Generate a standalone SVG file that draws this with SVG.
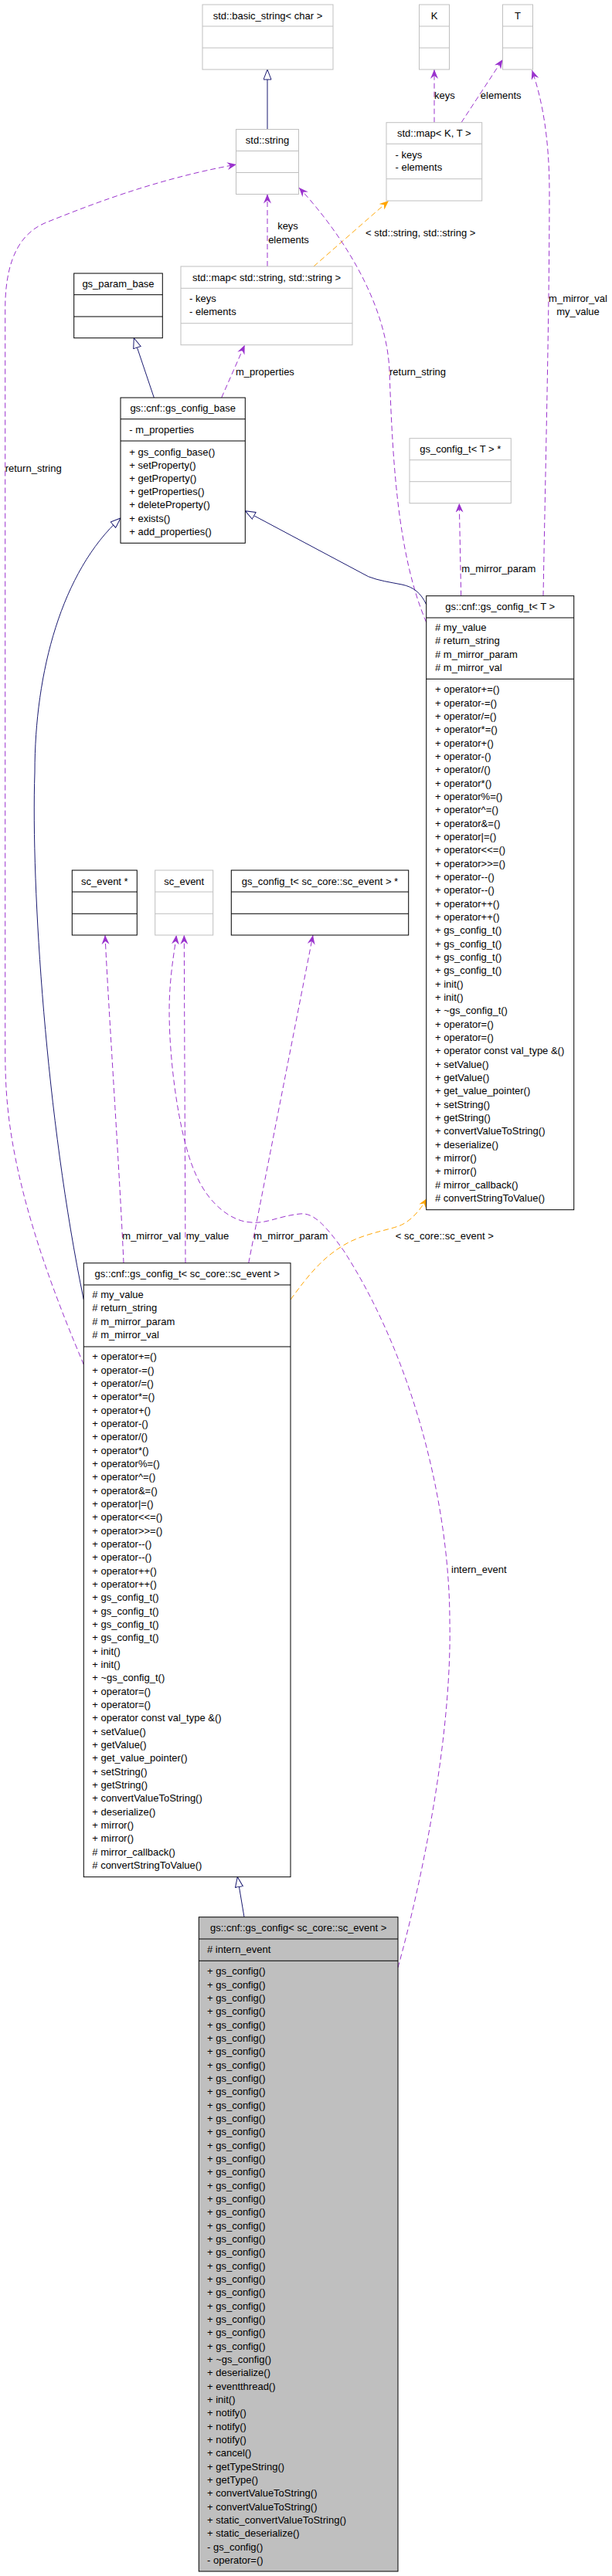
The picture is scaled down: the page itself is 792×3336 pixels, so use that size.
<svg xmlns="http://www.w3.org/2000/svg" width="792" height="3336" viewBox="0 0 792 3336">
<style>
text{font-family:"Liberation Sans",Arial,Helvetica,sans-serif;font-size:13px;fill:#000}
.c{text-anchor:middle}
.nb{fill:#fff;stroke:#000;stroke-width:1}
.ng{fill:#fff;stroke:#bfbfbf;stroke-width:1}
.nf{fill:#bfbfbf;stroke:#000;stroke-width:1}
.sb{fill:none;stroke:#000;stroke-width:1}
.sg{fill:none;stroke:#bfbfbf;stroke-width:1}
.u{fill:none;stroke:#9a32cd;stroke-width:1;stroke-dasharray:7,4;marker-end:url(#vp)}
.t{fill:none;stroke:#ffa500;stroke-width:1;stroke-dasharray:7,4;marker-end:url(#vo)}
.i{fill:none;stroke:#191970;stroke-width:1;marker-end:url(#tri)}
</style>
<defs>
<marker id="vp" viewBox="0 0 12 10" refX="12" refY="5" markerWidth="12" markerHeight="10" markerUnits="userSpaceOnUse" orient="auto"><path d="M0,0L12,5L0,10L4,5z" fill="#9a32cd"/></marker>
<marker id="vo" viewBox="0 0 12 10" refX="12" refY="5" markerWidth="12" markerHeight="10" markerUnits="userSpaceOnUse" orient="auto"><path d="M0,0L12,5L0,10L4,5z" fill="#ffa500"/></marker>
<marker id="tri" viewBox="0 0 14 11" refX="13.5" refY="5.5" markerWidth="14" markerHeight="11" markerUnits="userSpaceOnUse" orient="auto"><path d="M0.5,0.5L13.5,5.5L0.5,10.5z" fill="#fff" stroke="#191970"/></marker>
</defs>
<rect width="792" height="3336" fill="#fff"/>

<g id="connectors">
<path class="i" d="M346,167.5L346,90"/>
<path class="u" d="M562,158.7L562,90"/>
<path class="u" d="M597,158.7L650.5,77"/>
<path class="u" d="M703,771.7C706,600 711,400 711,250C711,180 702,130 688.5,91"/>
<path class="u" d="M346,345L346,251.5"/>
<path class="t" d="M406,345L503,260"/>
<path class="u" d="M551.7,806C515,720 508,600 504,480C500,390 440,300 387,243"/>
<path class="u" d="M286.7,515L316.7,446.7"/>
<path class="i" d="M199.3,515L173.3,437.7"/>
<path class="i" d="M551.7,783C545,768 535,760 520,757C505,754 490,752 476.7,746.7L317.3,661.7"/>
<path class="u" d="M596.7,771.7L594.3,651.7"/>
<path class="i" d="M108.3,1683C60,1450 40,1150 45,1000C45,870 80,740 156,671"/>
<path class="u" d="M108.3,1767C80,1700 40,1600 20,1500C8,1440 6.7,1400 6.7,1353L6.7,400C6.7,330 30,300 60,288C110,268 200,232 306,213"/>
<path class="u" d="M160,1635.7C155,1520 140,1300 136,1211"/>
<path class="u" d="M240,1635.7L238.3,1211"/>
<path class="u" d="M321.7,1635.7L405,1211"/>
<path class="t" d="M376,1683C400,1650 420,1625 453,1608C480,1595 510,1592 522,1585C535,1578 545,1565 552.7,1551.7"/>
<path class="u" d="M515,2548C545,2440 585,2250 582,2100C582,1950 535,1760 445,1620C420,1585 405,1570 388,1572C360,1575 345,1585 325,1583C300,1582 270,1560 253,1520C230,1470 215,1350 220,1280C222,1250 226,1230 228.3,1211"/>
<path class="i" d="M316,2482.7L307.3,2430.7"/>
<text x="562" y="127.5">keys</text>
<text x="621.8" y="127.5">elements</text>
<text class="c" x="748" y="391">m_mirror_val</text>
<text class="c" x="748" y="408">my_value</text>
<text class="c" x="372.5" y="297">keys</text>
<text class="c" x="373.5" y="315">elements</text>
<text x="473" y="306">&lt; std::string, std::string &gt;</text>
<text x="504" y="485.5">return_string</text>
<text x="597.3" y="741">m_mirror_param</text>
<text x="305" y="486">m_properties</text>
<text x="6.7" y="611">return_string</text>
<text x="158.3" y="1605">m_mirror_val</text>
<text x="240.7" y="1605">my_value</text>
<text x="328.3" y="1605">m_mirror_param</text>
<text x="511.7" y="1605">&lt; sc_core::sc_event &gt;</text>
<text x="584" y="2036.5">intern_event</text>
</g>

<g id="basic_string">
<rect class="ng" x="262" y="6" width="169" height="84"/>
<path class="sg" d="M262,34H431M262,62H431"/>
<text class="c" x="346.5" y="24.5">std::basic_string&lt; char &gt;</text>
</g>
<g id="std_string">
<rect class="ng" x="305.5" y="167.5" width="81" height="84"/>
<path class="sg" d="M305.5,195.5H386.5M305.5,223.5H386.5"/>
<text class="c" x="346" y="186">std::string</text>
</g>
<g id="K">
<rect class="ng" x="542.5" y="6" width="39" height="84"/>
<path class="sg" d="M542.5,34H581.5M542.5,62H581.5"/>
<text class="c" x="562" y="24.5">K</text>
</g>
<g id="T">
<rect class="ng" x="650.5" y="6" width="39" height="84"/>
<path class="sg" d="M650.5,34H689.5M650.5,62H689.5"/>
<text class="c" x="670" y="24.5">T</text>
</g>
<g id="map_K_T">
<rect class="ng" x="500" y="158.7" width="123.7" height="101.3"/>
<path class="sg" d="M500,186.3H623.7M500,231.7H623.7"/>
<text class="c" x="561.8" y="177.2">std::map&lt; K, T &gt;</text>
<text x="511.5" y="204.5">- keys</text>
<text x="511.5" y="221.2">- elements</text>
</g>
<g id="map_string_string">
<rect class="ng" x="234" y="345" width="222" height="101.7"/>
<path class="sg" d="M234,373.3H456M234,418.7H456"/>
<text class="c" x="345" y="363.7">std::map&lt; std::string, std::string &gt;</text>
<text x="245" y="391.2">- keys</text>
<text x="245" y="407.8">- elements</text>
</g>
<g id="gs_param_base">
<rect class="nb" x="95.7" y="354" width="114.6" height="83.7"/>
<path class="sb" d="M95.7,381.7H210.3M95.7,410H210.3"/>
<text class="c" x="153" y="372.3">gs_param_base</text>
</g>
<g id="gs_config_base">
<rect class="nb" x="156" y="515" width="161.3" height="188.3"/>
<path class="sb" d="M156,542.7H317.3M156,571H317.3"/>
<text class="c" x="236.7" y="533.3">gs::cnf::gs_config_base</text>
<text x="167.3" y="561.2">- m_properties</text>
<text x="167.3" y="589.5"><tspan x="167.3">+ gs_config_base()</tspan><tspan x="167.3" dy="17.2">+ setProperty()</tspan><tspan x="167.3" dy="17.2">+ getProperty()</tspan><tspan x="167.3" dy="17.2">+ getProperties()</tspan><tspan x="167.3" dy="17.2">+ deleteProperty()</tspan><tspan x="167.3" dy="17.2">+ exists()</tspan><tspan x="167.3" dy="17.2">+ add_properties()</tspan></text>
</g>
<g id="gs_config_t_T_ptr">
<rect class="ng" x="530" y="567.7" width="131.3" height="84"/>
<path class="sg" d="M530,595.7H661.3M530,623.7H661.3"/>
<text class="c" x="595.7" y="586.2">gs_config_t&lt; T &gt; *</text>
</g>
<g id="gs_config_t_T">
<rect class="nb" x="551.7" y="771.7" width="191" height="795"/>
<path class="sb" d="M551.7,800H742.7M551.7,879.3H742.7"/>
<text class="c" x="647.2" y="790.3">gs::cnf::gs_config_t&lt; T &gt;</text>
<text x="563" y="817.2"><tspan x="563"># my_value</tspan><tspan x="563" dy="17.2"># return_string</tspan><tspan x="563" dy="17.2"># m_mirror_param</tspan><tspan x="563" dy="17.2"># m_mirror_val</tspan></text>
<text x="563" y="897.2"><tspan x="563">+ operator+=()</tspan><tspan x="563" dy="17.34">+ operator-=()</tspan><tspan x="563" dy="17.34">+ operator/=()</tspan><tspan x="563" dy="17.34">+ operator*=()</tspan><tspan x="563" dy="17.34">+ operator+()</tspan><tspan x="563" dy="17.34">+ operator-()</tspan><tspan x="563" dy="17.34">+ operator/()</tspan><tspan x="563" dy="17.34">+ operator*()</tspan><tspan x="563" dy="17.34">+ operator%=()</tspan><tspan x="563" dy="17.34">+ operator^=()</tspan><tspan x="563" dy="17.34">+ operator&amp;=()</tspan><tspan x="563" dy="17.34">+ operator|=()</tspan><tspan x="563" dy="17.34">+ operator&lt;&lt;=()</tspan><tspan x="563" dy="17.34">+ operator&gt;&gt;=()</tspan><tspan x="563" dy="17.34">+ operator--()</tspan><tspan x="563" dy="17.34">+ operator--()</tspan><tspan x="563" dy="17.34">+ operator++()</tspan><tspan x="563" dy="17.34">+ operator++()</tspan><tspan x="563" dy="17.34">+ gs_config_t()</tspan><tspan x="563" dy="17.34">+ gs_config_t()</tspan><tspan x="563" dy="17.34">+ gs_config_t()</tspan><tspan x="563" dy="17.34">+ gs_config_t()</tspan><tspan x="563" dy="17.34">+ init()</tspan><tspan x="563" dy="17.34">+ init()</tspan><tspan x="563" dy="17.34">+ ~gs_config_t()</tspan><tspan x="563" dy="17.34">+ operator=()</tspan><tspan x="563" dy="17.34">+ operator=()</tspan><tspan x="563" dy="17.34">+ operator const val_type &amp;()</tspan><tspan x="563" dy="17.34">+ setValue()</tspan><tspan x="563" dy="17.34">+ getValue()</tspan><tspan x="563" dy="17.34">+ get_value_pointer()</tspan><tspan x="563" dy="17.34">+ setString()</tspan><tspan x="563" dy="17.34">+ getString()</tspan><tspan x="563" dy="17.34">+ convertValueToString()</tspan><tspan x="563" dy="17.34">+ deserialize()</tspan><tspan x="563" dy="17.34">+ mirror()</tspan><tspan x="563" dy="17.34">+ mirror()</tspan><tspan x="563" dy="17.34"># mirror_callback()</tspan><tspan x="563" dy="17.34"># convertStringToValue()</tspan></text>
</g>
<g id="sc_event_ptr">
<rect class="nb" x="93.3" y="1127" width="84" height="84"/>
<path class="sb" d="M93.3,1155H177.3M93.3,1183.3H177.3"/>
<text class="c" x="135.3" y="1145.5">sc_event *</text>
</g>
<g id="sc_event">
<rect class="ng" x="200.7" y="1127" width="75" height="84"/>
<path class="sg" d="M200.7,1155H275.7M200.7,1183.3H275.7"/>
<text class="c" x="238.2" y="1145.5">sc_event</text>
</g>
<g id="gs_config_t_sc_event_ptr">
<rect class="nb" x="299.3" y="1127" width="229.4" height="84"/>
<path class="sb" d="M299.3,1155H528.7M299.3,1183.3H528.7"/>
<text class="c" x="414" y="1145.5">gs_config_t&lt; sc_core::sc_event &gt; *</text>
</g>
<g id="gs_config_t_sc_event">
<rect class="nb" x="108.3" y="1635.7" width="267.7" height="795"/>
<path class="sb" d="M108.3,1664H376M108.3,1744H376"/>
<text class="c" x="242.2" y="1654.3">gs::cnf::gs_config_t&lt; sc_core::sc_event &gt;</text>
<text x="119.3" y="1681.2"><tspan x="119.3"># my_value</tspan><tspan x="119.3" dy="17.2"># return_string</tspan><tspan x="119.3" dy="17.2"># m_mirror_param</tspan><tspan x="119.3" dy="17.2"># m_mirror_val</tspan></text>
<text x="119.3" y="1761.2"><tspan x="119.3">+ operator+=()</tspan><tspan x="119.3" dy="17.34">+ operator-=()</tspan><tspan x="119.3" dy="17.34">+ operator/=()</tspan><tspan x="119.3" dy="17.34">+ operator*=()</tspan><tspan x="119.3" dy="17.34">+ operator+()</tspan><tspan x="119.3" dy="17.34">+ operator-()</tspan><tspan x="119.3" dy="17.34">+ operator/()</tspan><tspan x="119.3" dy="17.34">+ operator*()</tspan><tspan x="119.3" dy="17.34">+ operator%=()</tspan><tspan x="119.3" dy="17.34">+ operator^=()</tspan><tspan x="119.3" dy="17.34">+ operator&amp;=()</tspan><tspan x="119.3" dy="17.34">+ operator|=()</tspan><tspan x="119.3" dy="17.34">+ operator&lt;&lt;=()</tspan><tspan x="119.3" dy="17.34">+ operator&gt;&gt;=()</tspan><tspan x="119.3" dy="17.34">+ operator--()</tspan><tspan x="119.3" dy="17.34">+ operator--()</tspan><tspan x="119.3" dy="17.34">+ operator++()</tspan><tspan x="119.3" dy="17.34">+ operator++()</tspan><tspan x="119.3" dy="17.34">+ gs_config_t()</tspan><tspan x="119.3" dy="17.34">+ gs_config_t()</tspan><tspan x="119.3" dy="17.34">+ gs_config_t()</tspan><tspan x="119.3" dy="17.34">+ gs_config_t()</tspan><tspan x="119.3" dy="17.34">+ init()</tspan><tspan x="119.3" dy="17.34">+ init()</tspan><tspan x="119.3" dy="17.34">+ ~gs_config_t()</tspan><tspan x="119.3" dy="17.34">+ operator=()</tspan><tspan x="119.3" dy="17.34">+ operator=()</tspan><tspan x="119.3" dy="17.34">+ operator const val_type &amp;()</tspan><tspan x="119.3" dy="17.34">+ setValue()</tspan><tspan x="119.3" dy="17.34">+ getValue()</tspan><tspan x="119.3" dy="17.34">+ get_value_pointer()</tspan><tspan x="119.3" dy="17.34">+ setString()</tspan><tspan x="119.3" dy="17.34">+ getString()</tspan><tspan x="119.3" dy="17.34">+ convertValueToString()</tspan><tspan x="119.3" dy="17.34">+ deserialize()</tspan><tspan x="119.3" dy="17.34">+ mirror()</tspan><tspan x="119.3" dy="17.34">+ mirror()</tspan><tspan x="119.3" dy="17.34"># mirror_callback()</tspan><tspan x="119.3" dy="17.34"># convertStringToValue()</tspan></text>
</g>
<g id="gs_config_sc_event">
<rect class="nf" x="257.3" y="2482.7" width="257.7" height="847.3"/>
<path class="sb" d="M257.3,2511H515M257.3,2539.3H515"/>
<text class="c" x="386.2" y="2501.3">gs::cnf::gs_config&lt; sc_core::sc_event &gt;</text>
<text x="268" y="2529.2"># intern_event</text>
<text x="268" y="2557.2"><tspan x="268">+ gs_config()</tspan><tspan x="268" dy="17.34">+ gs_config()</tspan><tspan x="268" dy="17.34">+ gs_config()</tspan><tspan x="268" dy="17.34">+ gs_config()</tspan><tspan x="268" dy="17.34">+ gs_config()</tspan><tspan x="268" dy="17.34">+ gs_config()</tspan><tspan x="268" dy="17.34">+ gs_config()</tspan><tspan x="268" dy="17.34">+ gs_config()</tspan><tspan x="268" dy="17.34">+ gs_config()</tspan><tspan x="268" dy="17.34">+ gs_config()</tspan><tspan x="268" dy="17.34">+ gs_config()</tspan><tspan x="268" dy="17.34">+ gs_config()</tspan><tspan x="268" dy="17.34">+ gs_config()</tspan><tspan x="268" dy="17.34">+ gs_config()</tspan><tspan x="268" dy="17.34">+ gs_config()</tspan><tspan x="268" dy="17.34">+ gs_config()</tspan><tspan x="268" dy="17.34">+ gs_config()</tspan><tspan x="268" dy="17.34">+ gs_config()</tspan><tspan x="268" dy="17.34">+ gs_config()</tspan><tspan x="268" dy="17.34">+ gs_config()</tspan><tspan x="268" dy="17.34">+ gs_config()</tspan><tspan x="268" dy="17.34">+ gs_config()</tspan><tspan x="268" dy="17.34">+ gs_config()</tspan><tspan x="268" dy="17.34">+ gs_config()</tspan><tspan x="268" dy="17.34">+ gs_config()</tspan><tspan x="268" dy="17.34">+ gs_config()</tspan><tspan x="268" dy="17.34">+ gs_config()</tspan><tspan x="268" dy="17.34">+ gs_config()</tspan><tspan x="268" dy="17.34">+ gs_config()</tspan><tspan x="268" dy="17.34">+ ~gs_config()</tspan><tspan x="268" dy="17.34">+ deserialize()</tspan><tspan x="268" dy="17.34">+ eventthread()</tspan><tspan x="268" dy="17.34">+ init()</tspan><tspan x="268" dy="17.34">+ notify()</tspan><tspan x="268" dy="17.34">+ notify()</tspan><tspan x="268" dy="17.34">+ notify()</tspan><tspan x="268" dy="17.34">+ cancel()</tspan><tspan x="268" dy="17.34">+ getTypeString()</tspan><tspan x="268" dy="17.34">+ getType()</tspan><tspan x="268" dy="17.34">+ convertValueToString()</tspan><tspan x="268" dy="17.34">+ convertValueToString()</tspan><tspan x="268" dy="17.34">+ static_convertValueToString()</tspan><tspan x="268" dy="17.34">+ static_deserialize()</tspan><tspan x="268" dy="17.34">- gs_config()</tspan><tspan x="268" dy="17.34">- operator=()</tspan></text>
</g>
</svg>
